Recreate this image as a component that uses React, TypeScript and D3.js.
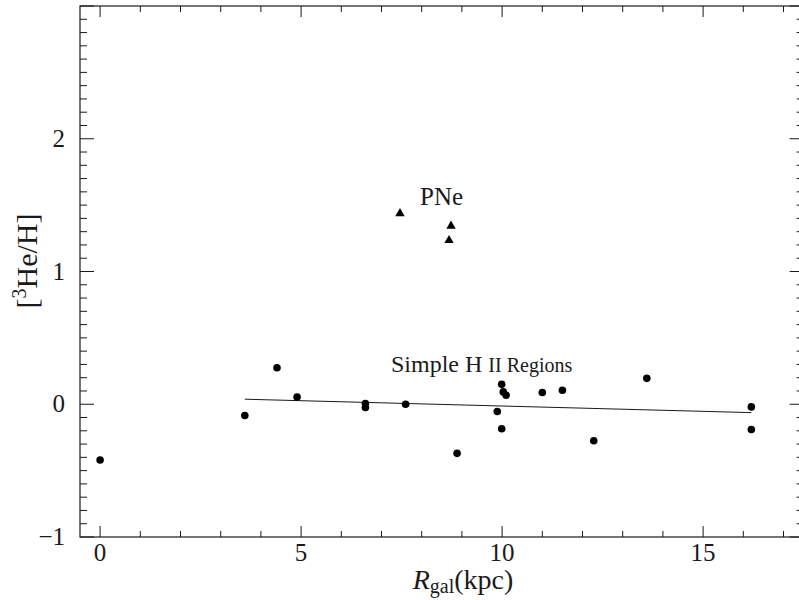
import * as d3 from "d3";
import { useEffect, useRef } from "react";

// simple H II regions
const hiiR = [0, 3.6, 4.4, 4.9, 6.6, 6.6, 7.6, 8.88, 9.88, 9.99, 10.03, 10.1, 9.99, 11.0, 11.5, 12.28, 13.6, 16.2, 16.2];
const hiiAbund = [-0.42, -0.085, 0.275, 0.055, 0.005, -0.025, 0.0, -0.37, -0.055, 0.15, 0.093, 0.068, -0.185, 0.088, 0.105, -0.275, 0.195, -0.02, -0.19];

// planetary nebulae
const pneR = [7.46, 8.73, 8.68];
const pneAbund = [1.437, 1.343, 1.235];

// fitted gradient (end points)
const fitR = [3.6, 16.2];
const fitAbund = [0.038, -0.063];

const xTicks = [0, 5, 10, 15];
const yTicks = [-1, 0, 1, 2];

export default function App() {
  const svgRef = useRef<SVGSVGElement>(null);

  useEffect(() => {
    const width = 799;
    const height = 600;
    const left = 80;
    const right = 803.6;
    const top = 6;
    const bottom = 537;

    const svg = d3.select(svgRef.current);
    svg.selectAll("*").remove();
    svg.attr("width", width).attr("height", height);

    const x = d3.scaleLinear().domain([-0.5, 17.5]).range([left, right]);
    const y = d3.scaleLinear().domain([-1, 3]).range([bottom, top]);
    const ink = "#1a1a1a";
    const font = "'Times New Roman', 'Liberation Serif', serif";

    // frame
    svg
      .append("rect")
      .attr("x", left)
      .attr("y", top)
      .attr("width", right - left)
      .attr("height", bottom - top)
      .attr("fill", "none")
      .attr("stroke", ink)
      .attr("stroke-width", 1.2);

    //ticks pointing inward on all four sides
    const xMinor = d3.range(0, 18, 1);
    const yMinor = d3.range(-1, 3.001, 0.1).map((v) => Math.round(v * 10) / 10);
    const isMajorX = (v: number) => v % 5 === 0;
    const isMajorY = (v: number) => Math.abs(v - Math.round(v)) < 1e-6;

    const ticks = svg.append("g").attr("stroke", ink).attr("stroke-width", 1);
    xMinor.forEach((v) => {
      const len = isMajorX(v) ? 11 : 6;
      ticks.append("line").attr("x1", x(v)).attr("x2", x(v)).attr("y1", bottom).attr("y2", bottom - len);
      ticks.append("line").attr("x1", x(v)).attr("x2", x(v)).attr("y1", top).attr("y2", top + len);
    });
    yMinor.forEach((v) => {
      const len = isMajorY(v) ? 14 : 7;
      ticks.append("line").attr("x1", left).attr("x2", left + len).attr("y1", y(v)).attr("y2", y(v));
      ticks.append("line").attr("x1", right).attr("x2", right - len).attr("y1", y(v)).attr("y2", y(v));
    });

    // tick labels
    svg
      .append("g")
      .selectAll("text")
      .data(xTicks)
      .enter()
      .append("text")
      .attr("x", (d) => x(d))
      .attr("y", 561)
      .attr("text-anchor", "middle")
      .attr("font-family", font)
      .attr("font-size", 25)
      .attr("fill", ink)
      .text((d) => String(d));

    svg
      .append("g")
      .selectAll("text")
      .data(yTicks)
      .enter()
      .append("text")
      .attr("x", 65)
      .attr("y", (d) => y(d) + 8)
      .attr("text-anchor", "end")
      .attr("font-family", font)
      .attr("font-size", 25)
      .attr("fill", ink)
      .text((d) => (d < 0 ? "\u2212" + Math.abs(d) : String(d)));

    // axis titles
    const xt = svg
      .append("text")
      .attr("x", 463)
      .attr("y", 589)
      .attr("text-anchor", "middle")
      .attr("font-family", font)
      .attr("font-size", 28)
      .attr("fill", ink);
    xt.append("tspan").attr("font-style", "italic").text("R");
    xt.append("tspan").attr("font-size", 20).attr("dy", 4).text("gal");
    xt.append("tspan").attr("dy", -4).text("(kpc)");

    const yt = svg
      .append("text")
      .attr("x", 37)
      .attr("y", 261)
      .attr("transform", "rotate(-90, 37, 261)")
      .attr("text-anchor", "middle")
      .attr("font-family", font)
      .attr("font-size", 30)
      .attr("fill", ink);
    yt.append("tspan").text("[");
    yt.append("tspan").attr("font-size", 20).attr("dy", -11).text("3");
    yt.append("tspan").attr("dy", 11).text("He/H]");

    // fit line
    const line = d3
      .line<number>()
      .x((d, i) => x(fitR[i]))
      .y((d) => y(d));
    svg
      .append("path")
      .attr("d", line(fitAbund))
      .attr("fill", "none")
      .attr("stroke", ink)
      .attr("stroke-width", 1);

    // H II points
    svg
      .append("g")
      .selectAll("circle")
      .data(hiiR)
      .enter()
      .append("circle")
      .attr("cx", (d) => x(d))
      .attr("cy", (d, i) => y(hiiAbund[i]))
      .attr("r", 3.8)
      .attr("fill", "#000");

    // PNe triangles
    const tri = d3.symbol().type(d3.symbolTriangle).size(38);
    svg
      .append("g")
      .selectAll("path")
      .data(pneR)
      .enter()
      .append("path")
      .attr("d", tri)
      .attr("transform", (d, i) => `translate(${x(d)},${y(pneAbund[i])})`)
      .attr("fill", "#000");

    // annotations
    svg
      .append("text")
      .attr("x", 420)
      .attr("y", 205)
      .attr("font-family", font)
      .attr("font-size", 25)
      .attr("fill", ink)
      .text("PNe");

    const lab = svg
      .append("text")
      .attr("x", 391)
      .attr("y", 372)
      .attr("font-family", font)
      .attr("font-size", 24)
      .attr("fill", ink);
    lab.append("tspan").text("Simple H ");
    lab.append("tspan").attr("font-size", 20).text("II Regions");
  }, []);

  return (
    <svg
      ref={svgRef}
      style={{ position: "absolute", left: 0, top: 0, background: "#fff" }}
    ></svg>
  );
}
